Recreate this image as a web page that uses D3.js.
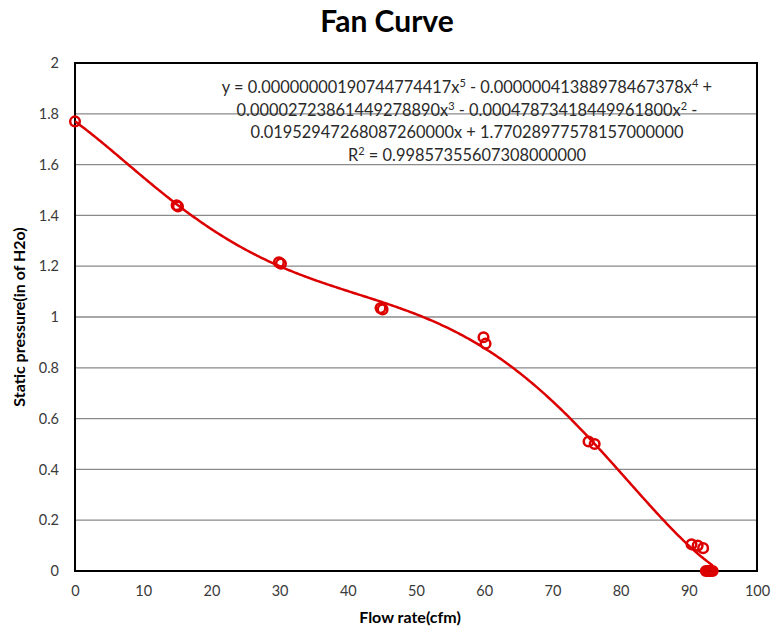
<!DOCTYPE html>
<html>
<head>
<meta charset="utf-8">
<script src="https://cdn.jsdelivr.net/npm/d3@7"></script>
<style>
  body { margin: 0; background: #fff; }
  text { font-family: Lato, "Open Sans", sans-serif; }
</style>
</head>
<body>
<div id="chart"></div>
<script>
// measured points (flow rate in cfm, static pressure in in of H2o)
const flowRate = [0, 14.9, 15.1, 29.9, 30.2, 44.8, 45.1, 59.9, 60.2, 75.3, 76.2, 90.4, 91.3, 92.1, 92.5, 92.8, 93.0, 93.2, 93.5];
const staticPressure = [1.77, 1.44, 1.435, 1.215, 1.21, 1.035, 1.03, 0.92, 0.895, 0.51, 0.50, 0.105, 0.10, 0.09, 0.0, 0.0, 0.0, 0.0, 0.0];

// poly trendline coefficients, a0 .. a5
const trendCoef = [1.77028977578157, -0.0195294726808726, -0.000478734184499618,
    0.0000272386144927889, -0.00000041388978467378, 0.00000000190744774417];

const xTicks = [0, 10, 20, 30, 40, 50, 60, 70, 80, 90, 100];
const yTicks = [0, 0.2, 0.4, 0.6, 0.8, 1, 1.2, 1.4, 1.6, 1.8, 2];

// ^n marks a superscript
const equationLines = [
    "y = 0.00000000190744774417x^5 - 0.00000041388978467378x^4 +",
    "0.00002723861449278890x^3 - 0.00047873418449961800x^2 -",
    "0.01952947268087260000x + 1.77028977578157000000",
    "R^2 = 0.99857355607308000000"
];

const width = 774, height = 637;
const margin = { top: 63, left: 75, right: 17, bottom: 66 };
const red = "#dc0000";

const points = flowRate.map((x, i) => ({ x: x, y: staticPressure[i] }));

const x = d3.scaleLinear().domain([0, 100]).range([margin.left, width - margin.right]);
const y = d3.scaleLinear().domain([0, 2]).range([height - margin.bottom, margin.top]);

const svg = d3.select("#chart").append("svg")
    .attr("width", width).attr("height", height);

// gridlines
svg.append("g").selectAll("line")
    .data(yTicks.slice(1, -1))
    .join("line")
    .attr("x1", x(0)).attr("x2", x(100))
    .attr("y1", d => y(d)).attr("y2", d => y(d))
    .attr("stroke", "#8a8a8a").attr("stroke-width", 1.3);

// plot border
svg.append("rect")
    .attr("x", x(0)).attr("y", y(2))
    .attr("width", x(100) - x(0)).attr("height", y(0) - y(2))
    .attr("fill", "none").attr("stroke", "#000").attr("stroke-width", 2);

// axes (labels only)
const xAxis = svg.append("g")
    .attr("transform", `translate(0,${y(0)})`)
    .call(d3.axisBottom(x).tickValues(xTicks).tickSize(0).tickPadding(15).tickFormat(d3.format("d")));
const yAxis = svg.append("g")
    .attr("transform", `translate(${x(0)},0)`)
    .call(d3.axisLeft(y).tickValues(yTicks).tickSize(0).tickPadding(16).tickFormat(d => String(+d.toFixed(1))));
[xAxis, yAxis].forEach(a => {
    a.select(".domain").remove();
    a.selectAll("text").attr("font-size", 14.5).attr("fill", "#3a3a3a")
        .style("font-family", "Lato, sans-serif");
});

// trendline
const poly = v => trendCoef.reduce((s, c, i) => s + c * Math.pow(v, i), 0);
const xMax = d3.max(flowRate);
const trendData = d3.range(0, xMax, 0.25).concat([xMax]).map(v => ({ x: v, y: poly(v) }));
svg.append("path")
    .datum(trendData)
    .attr("d", d3.line().x(d => x(d.x)).y(d => y(d.y)))
    .attr("fill", "none").attr("stroke", red).attr("stroke-width", 2.5);

// markers
svg.append("g").selectAll("circle")
    .data(points)
    .join("circle")
    .attr("cx", d => x(d.x)).attr("cy", d => y(d.y))
    .attr("r", 4.8)
    .attr("fill", "none").attr("stroke", red).attr("stroke-width", 2.5);

// trendline equation
const eq = svg.append("g").selectAll("text")
    .data(equationLines)
    .join("text")
    .attr("x", 467)
    .attr("y", (d, i) => 93 + i * 22.7)
    .attr("text-anchor", "middle")
    .attr("font-size", 16.4)
    .attr("fill", "#2a2a2a");

eq.each(function (line) {
    const t = d3.select(this);
    let shift = 0; // pending drop back to baseline after a superscript
    line.split(/(\^\d)/).filter(p => p.length).forEach(part => {
        if (part.startsWith("^")) {
            t.append("tspan").attr("font-size", 11).attr("dy", shift - 6).text(part.slice(1));
            shift = 6;
        } else {
            t.append("tspan").attr("dy", shift).text(part);
            shift = 0;
        }
    });
});

// titles
svg.append("text")
    .attr("x", 387).attr("y", 32)
    .attr("text-anchor", "middle")
    .attr("font-size", 30).attr("font-weight", "bold")
    .text("Fan Curve");

svg.append("text")
    .attr("x", (x(0) + x(100)) / 2 - 6).attr("y", 623)
    .attr("text-anchor", "middle")
    .attr("font-size", 16).attr("font-weight", "bold")
    .text("Flow rate(cfm)");

svg.append("text")
    .attr("transform", `translate(25,${(y(0) + y(2)) / 2}) rotate(-90)`)
    .attr("text-anchor", "middle")
    .attr("font-size", 16).attr("font-weight", "bold")
    .text("Static pressure(in of H2o)");
</script>
</body>
</html>
